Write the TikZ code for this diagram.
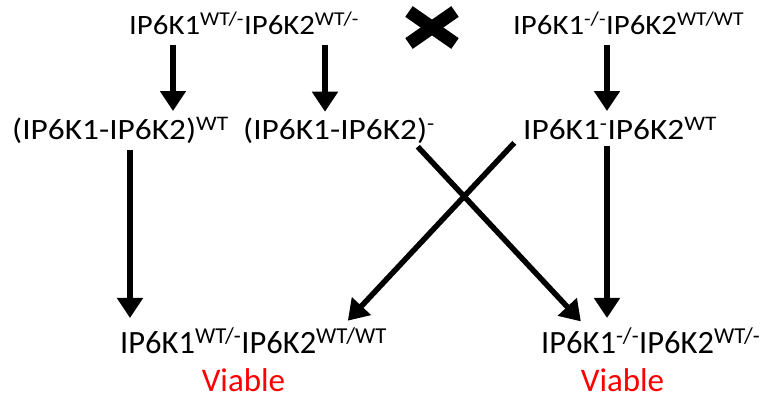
\documentclass[tikz,border=0pt]{standalone}
\usepackage{fontspec}
\setmainfont{Carlito}
\newfontfamily\topfont{Carlito}[FakeStretch=1.1]
\newfontfamily\midfont{Carlito}[FakeStretch=1.13]
\usetikzlibrary{arrows.meta}
\tikzset{
  geno/.style={anchor=base west, inner sep=0pt},
  parent/.style={geno, font=\topfont\fontsize{28}{32}\selectfont},
  gamete/.style={geno, font=\midfont\fontsize{29.5}{34}\selectfont},
  child/.style={geno, font=\fontsize{32.5}{38}\selectfont},
  viable/.style={anchor=base, inner sep=0pt, text=red, font=\fontsize{33}{38}\selectfont},
  arr/.style={line width=5.5pt, -{Triangle[width=25pt,length=20pt]}},
}
\newcommand{\sx}[1]{\textsuperscript{#1}}

\begin{document}
\begin{tikzpicture}[x=1pt,y=-1pt]
\useasboundingbox (0,0) rectangle (765,401);
% parents
\node[parent] (pa) at (129,34.5) {IP6K1\sx{WT/-}IP6K2\sx{WT/-}};
\node[parent] (pb) at (513,34.5) {IP6K1\sx{-/-}IP6K2\sx{WT/WT}};
% the cross sign
\coordinate (cx) at (432,27.5);
\draw[line width=13pt] ([shift={(-23,-16)}]cx) -- ([shift={(23,16)}]cx);
\draw[line width=13pt] ([shift={(-23,16)}]cx) -- ([shift={(23,-16)}]cx);
% gametes
\node[gamete] (ga) at (12,139.5) {(IP6K1-IP6K2)\sx{WT}};
\node[gamete] (gb) at (243,139.5) {(IP6K1-IP6K2)\sx{-}};
\node[gamete] (gc) at (523,139.5) {IP6K1\sx{-}IP6K2\sx{WT}};
% offspring
\node[child] (oa) at (120,353) {IP6K1\sx{WT/-}IP6K2\sx{WT/WT}};
\node[child] (ob) at (541,353) {IP6K1\sx{-/-}IP6K2\sx{WT/-}};
\node[viable] (va) at (243.5,391) {Viable};
\node[viable] (vb) at (622.5,391) {Viable};
% parents -> gametes
\draw[arr, shorten <=10pt, shorten >=6pt] (pa.south -| 173,0) -- (ga.north -| 173,0);
\draw[arr, shorten <=10pt, shorten >=6pt] (pa.south -| 325,0) -- (gb.north -| 325,0);
\draw[arr, shorten <=10pt, shorten >=6pt] (pb.south -| 607,0) -- (gc.north -| 607,0);
% gametes -> offspring
\draw[arr, shorten <=6pt, shorten >=10pt] (ga.south -| 130,0) -- (oa.north -| 130,0);
\draw[arr, shorten <=6pt, shorten >=10pt] (gc.south -| 607,0) -- (ob.north -| 607,0);
\draw[arr, shorten <=4pt, shorten >=9pt] (gb.south -| 415,0) -- (ob.north -| 587,0);
\draw[arr, shorten <=4pt, shorten >=10pt] (gc.south -| 517,0) -- (oa.north -| 341,0);
\end{tikzpicture}
\end{document}
